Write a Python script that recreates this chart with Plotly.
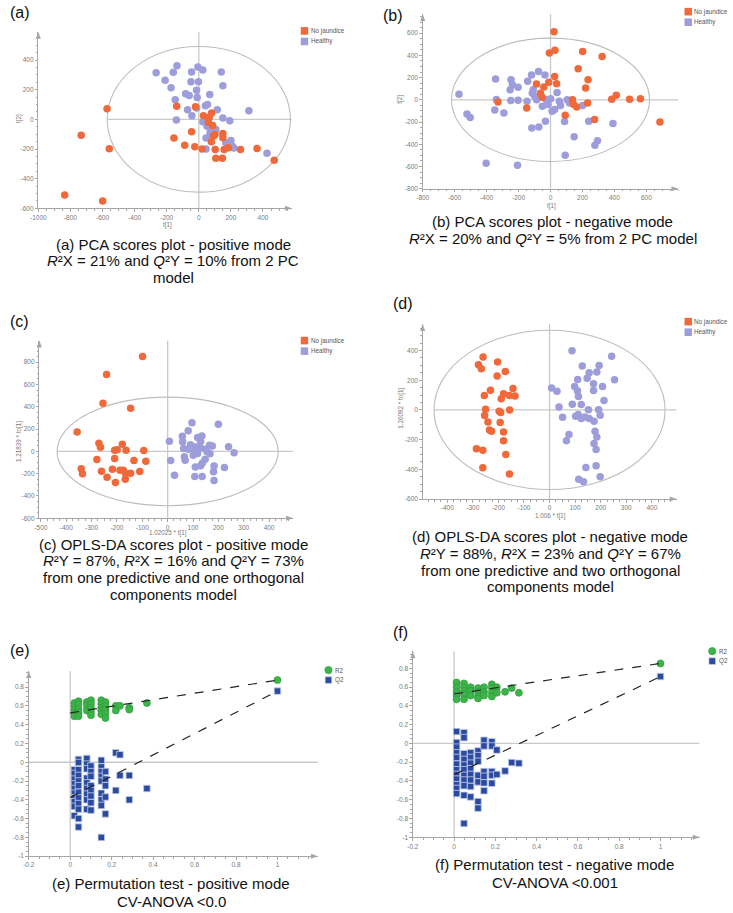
import plotly.graph_objects as go

W, H = 733, 913

# ---------------- DATA ----------------
# (a) PCA scores plot - positive mode
pca_pos_nj_t1 = [-572, -733, -558, -836, -599, -138, -21, -155, -45, -88, -25, 21, 29, 66, 80,
                 86, 78, 92, 101, 150, 150, 158, 184, 260, 363, 470, 106, 147, 102, 58, 60]
pca_pos_nj_t2 = [72, -107, -198, -511, -551, 89, 85, -125, -84, -174, -185, -200, 25, 16, 43,
                 -41, -151, -113, -102, -95, -124, -203, -191, -203, -196, -276, -263, -263, -203, 9, -20]
pca_pos_h_t1 = [-266, -210, -173, -159, -136, -45, -6, 25, 140, 150, -49, -2, -14, -82, -60, -10, 68,
                -147, -70, -14, -43, -140, 41, 54, 115, 150, 193, 312, 25, 51, 45, 106, 72, 168, 200,
                208, 219, 45, 425, 70, 60, 180]
pca_pos_h_t2 = [315, 264, 213, 318, 362, 320, 353, 333, 320, 226, 254, 254, 197, 172, 161, 148, 168,
                132, 65, 76, 25, -4, 92, 101, 65, 9, -9, 58, -16, -47, -125, -69, -80, -158, -142,
                -180, -194, -200, -229, -98, -30, -170]

# (b) PCA scores plot - negative mode
pca_neg_nj_t1 = [22, -7, 28, 201, 323, 173, 235, 26, 220, 38, -11, -42, -88, -63, -52, -329, -149,
                 92, 137, 144, 164, 232, 276, 383, 412, 495, 563, 685]
pca_neg_nj_t2 = [612, 421, 447, 435, 391, 280, 181, 211, 106, 145, 157, 115, 142, 60, 24, -19, -73,
                 -139, 1, -40, -64, -28, -178, 6, 40, 6, 9, -199]
pca_neg_h_t1 = [-573, -523, -503, -344, -339, -349, -292, -247, -238, -253, -249, -203, -203, -143,
                -119, -75, -35, -108, -114, -98, -87, -147, -26, 1, -15, 10, 26, 41, 55, 63, -117,
                -73, -32, 88, 104, 148, 92, 239, 278, 294, 391, 201, -403, -207, -51, 119]
pca_neg_h_t2 = [50, -127, -160, 187, 2, -91, -118, 181, 136, 91, -7, 112, -4, 166, 223, 256, 223,
                91, 60, 30, 0, -14, 0, 9, -43, -103, -88, 66, -14, -52, -253, -244, -193, -196, 1,
                -333, -498, -193, -408, -369, -213, -52, -572, -590, -58, -28]

# (c) OPLS-DA scores plot - positive mode
opls_pos_nj_t = [-99, -241, -255, -146, -357, -271, -265, -179, -209, -199, -164, -94, -279, -209,
                 -133, -86, -341, -336, -261, -218, -188, -175, -166, -146, -110, -239, -206, -167]
opls_pos_nj_to = [851, 690, 431, 386, 174, 73, 37, 64, 11, 14, 10, 7, -73, -64, -82, -88, -156,
                  -201, -177, -159, -168, -168, -198, -195, -180, -231, -278, -249]
opls_pos_h_t = [96, 200, 81, 118, 135, 58, 59, 7, 130, 165, 176, 240, 262, 63, 81, 106, 111, 130,
                150, 167, 101, 118, 12, 66, 69, 148, 137, 130, 183, 181, 224, 109, 27, 107, 136,
                183, 90, 155]
opls_pos_h_to = [258, 243, 186, 124, 139, 136, 86, 91, 88, 55, 49, 42, -11, 26, 20, 2, 40, 31, 20,
                 -22, -34, -19, -82, -49, -79, -70, -103, -129, -132, -183, -144, -141, -213,
                 -225, -225, -260, 60, 0]

# (d) OPLS-DA scores plot - negative mode
opls_neg_nj_t = [-260, -278, -267, -203, -173, -205, -231, -255, -143, -135, -157, -180, -189, -250,
                 -254, -241, -227, -197, -191, -156, -193, -180, -180, -286, -261, -171, -261,
                 -157, -235]
opls_neg_nj_to = [357, 304, 277, 322, 259, 228, 132, 98, 145, 94, 98, 109, 76, 4, -38, -81, -144,
                  -9, -18, 0, -85, -148, -208, -262, -271, -300, -390, -432, -135]
opls_neg_h_t = [88, 243, 128, 155, 147, 194, 185, 254, 110, 207, 98, 172, 172, 8, 29, 109, 113,
                213, 89, 37, 124, 152, 192, 198, 51, 102, 112, 124, 138, 155, 174, 178, 185, 174,
                182, 76, 66, 182, 142, 114, 133, 198]
opls_neg_h_to = [398, 362, 295, 250, 214, 299, 255, 203, 205, 158, 158, 176, 131, 147, 125, 129,
                 91, 64, 38, 20, 36, 2, 2, -36, -50, -43, -31, -58, -47, -58, -76, -143, -182,
                 -226, -267, -166, -208, -376, -388, -466, -484, -450]

# Hotelling T2 ellipse half-widths (t axis, orthogonal axis)
ellipse_a = [571, 620, 436, 452]
ellipse_b = [491, 555, 487, 536]

# (e) Permutation test - positive mode
perm_pos_r2_x = [0.02, 0.02, 0.02, 0.02, 0.02, 0.04, 0.04, 0.04, 0.04, 0.04, 0.08, 0.08, 0.08,
                 0.10, 0.10, 0.10, 0.10, 0.10, 0.15, 0.15, 0.15, 0.15, 0.15, 0.17, 0.17, 0.17,
                 0.17, 0.17, 0.22, 0.22, 0.24, 0.285, 0.285, 0.37, 1.0]
perm_pos_r2_y = [0.63, 0.60, 0.56, 0.52, 0.49, 0.65, 0.62, 0.57, 0.53, 0.49, 0.64, 0.60, 0.55,
                 0.66, 0.62, 0.58, 0.54, 0.50, 0.66, 0.62, 0.58, 0.55, 0.51, 0.64, 0.60, 0.56,
                 0.52, 0.47, 0.60, 0.55, 0.60, 0.58, 0.56, 0.63, 0.874]
perm_pos_q2_x = [0.02, 0.02, 0.02, 0.02, 0.02, 0.02, 0.02, 0.02, 0.02, 0.02,
                 0.04, 0.04, 0.04, 0.04, 0.04, 0.04, 0.04, 0.04, 0.04, 0.04, 0.04, 0.04,
                 0.08, 0.08, 0.08, 0.08, 0.08, 0.08, 0.08, 0.08, 0.08,
                 0.10, 0.10, 0.10, 0.10, 0.10, 0.10, 0.10, 0.10,
                 0.15, 0.15, 0.15, 0.15, 0.15, 0.15, 0.15, 0.15, 0.15,
                 0.17, 0.17, 0.17, 0.17, 0.17, 0.22, 0.22, 0.24, 0.24, 0.285, 0.285, 0.37, 1.0]
perm_pos_q2_y = [-0.08, -0.12, -0.18, -0.23, -0.28, -0.33, -0.38, -0.42, -0.47, -0.57,
                 0.03, -0.003, -0.08, -0.14, -0.20, -0.25, -0.32, -0.38, -0.44, -0.50, -0.60, -0.69,
                 0.04, -0.02, -0.07, -0.17, -0.22, -0.28, -0.34, -0.40, -0.50,
                 -0.04, -0.10, -0.15, -0.25, -0.30, -0.36, -0.43, -0.51,
                 0.02, -0.05, -0.10, -0.15, -0.20, -0.33, -0.40, -0.46, -0.80,
                 -0.10, -0.18, -0.25, -0.37, -0.55, 0.10, -0.30, 0.08, -0.14, -0.14, -0.40, -0.28,
                 0.757]
perm_pos_r2_line = [0.525, 0.874]
perm_pos_q2_line = [-0.375, 0.757]

# (f) Permutation test - negative mode
perm_neg_r2_x = [0.012, 0.012, 0.012, 0.012, 0.012, 0.048, 0.048, 0.048, 0.048, 0.048,
                 0.08, 0.08, 0.08, 0.116, 0.116, 0.116, 0.116, 0.145, 0.145, 0.145,
                 0.183, 0.183, 0.183, 0.183, 0.207, 0.207, 0.247, 0.279, 0.314, 1.0]
perm_neg_r2_y = [0.65, 0.60, 0.55, 0.51, 0.47, 0.64, 0.60, 0.56, 0.52, 0.47,
                 0.60, 0.56, 0.51, 0.59, 0.55, 0.50, 0.48, 0.60, 0.55, 0.51,
                 0.63, 0.59, 0.54, 0.50, 0.60, 0.54, 0.55, 0.59, 0.54, 0.853]
perm_neg_q2_x = [0.012, 0.012, 0.012, 0.012, 0.012, 0.012, 0.012, 0.012, 0.012, 0.012, 0.012, 0.012,
                 0.048, 0.048, 0.048, 0.048, 0.048, 0.048, 0.048, 0.048, 0.048, 0.048, 0.048,
                 0.08, 0.08, 0.08, 0.08, 0.08, 0.08, 0.08, 0.08,
                 0.116, 0.116, 0.116, 0.116, 0.116, 0.116, 0.116,
                 0.145, 0.145, 0.145, 0.145, 0.145, 0.145,
                 0.183, 0.183, 0.183, 0.183, 0.183, 0.207, 0.207, 0.247, 0.279, 0.314, 1.0]
perm_neg_q2_y = [0.126, 0.01, -0.04, -0.10, -0.15, -0.22, -0.28, -0.33, -0.38, -0.44, -0.48, -0.535,
                 0.115, 0.062, -0.11, -0.17, -0.23, -0.28, -0.34, -0.39, -0.45, -0.553, -0.853,
                 -0.10, -0.15, -0.21, -0.27, -0.33, -0.39, -0.46, -0.57,
                 -0.08, -0.13, -0.19, -0.34, -0.41, -0.62, -0.69,
                 0.034, -0.027, -0.30, -0.35, -0.42, -0.505,
                 0.019, -0.027, -0.30, -0.34, -0.424, -0.07, -0.33, -0.293, -0.204, -0.211, 0.713]
perm_neg_r2_line = [0.527, 0.853]
perm_neg_q2_line = [-0.333, 0.713]
perm_line_x = [0, 1]

# Tick values / labels
ticks_a_x = [-1000, -800, -600, -400, -200, 0, 200, 400]
ticks_a_y = [-600, -400, -200, 0, 200, 400]
ticks_b_x = [-800, -600, -400, -200, 0, 200, 400, 600]
ticks_b_y = [-800, -600, -400, -200, 0, 200, 400, 600]
ticks_c_x = [-500, -400, -300, -200, -100, 0, 100, 200, 300, 400]
ticks_c_y = [-600, -400, -200, 0, 200, 400, 600, 800]
ticks_d_x = [-500, -400, -300, -200, -100, 0, 100, 200, 300, 400]
ticks_d_y = [-600, -400, -200, 0, 200, 400]
ticks_perm_x = [-0.2, 0, 0.2, 0.4, 0.6, 0.8, 1]
labels_perm_x = ["-0.2", "0", "0.2", "0.4", "0.6", "0.8", "1"]
ticks_perm_y = [-1, -0.8, -0.6, -0.4, -0.2, 0, 0.2, 0.4, 0.6, 0.8]
labels_perm_y = ["-1", "-0.8", "-0.6", "-0.4", "-0.2", "0", "0.2", "0.4", "0.6", "0.8"]

group_names = ["No jaundice", "Healthy"]
perm_names = ["R2", "Q2"]

# ---------------- STYLE ----------------
AXC = '#a6a6a6'
TICKC = '#7a7a7a'
ORANGE = '#f0693a'
LAV = '#9d9ddb'
GREEN = '#3db44a'
NAVY = '#2b4ba1'
CAP_FONT = 'Liberation Sans, Arial, sans-serif'
SMALL_FONT = 'Liberation Sans, Arial, sans-serif'
CAP_SIZE = 15
LS = 16.8   # caption line spacing


def fx(px):
    return px / W


def fy(py):
    return 1 - py / H


# panel geometry in pixels: (left, top, right, bottom)
panels = [
    dict(box=(30.7, 32, 287, 209), xr=[-1000, 580], yr=[-600, 590], tx=ticks_a_x, ty=ticks_a_y,
         mx=50, my=50),
    dict(box=(419.3, 14, 677.7, 189.3), xr=[-800, 800], yr=[-800, 773], tx=ticks_b_x, ty=ticks_b_y,
         mx=50, my=50),
    dict(box=(31.7, 341.7, 288.3, 520), xr=[-506, 495], yr=[-600, 994], tx=ticks_c_x, ty=ticks_c_y,
         mx=25, my=50),
    dict(box=(419.3, 325, 676, 500.7), xr=[-496, 497], yr=[-600, 579], tx=ticks_d_x, ty=ticks_d_y,
         mx=25, my=50),
    dict(box=(21, 673.3, 313.3, 859), xr=[-0.2, 1.195], yr=[-1, 0.97], tx=ticks_perm_x,
         ty=ticks_perm_y, mx=0.05, my=0.05, lx=labels_perm_x, ly=labels_perm_y),
    dict(box=(409.3, 653.3, 699.3, 840), xr=[-0.2, 1.19], yr=[-1, 0.984], tx=ticks_perm_x,
         ty=ticks_perm_y, mx=0.05, my=0.05, lx=labels_perm_x, ly=labels_perm_y),
]

fig = go.Figure()
layout = dict(width=W, height=H, margin=dict(l=0, r=0, t=0, b=0),
              paper_bgcolor='white', plot_bgcolor='white', showlegend=False)
shapes = []
annotations = []

for i, p in enumerate(panels):
    n = '' if i == 0 else str(i + 1)
    l, t, r, b = p['box']
    common = dict(showgrid=False, zeroline=False, showline=True, linecolor=AXC, linewidth=1,
                  ticks='outside', ticklen=2.5, tickcolor=AXC, tickwidth=1,
                  tickfont=dict(size=6.5, color=TICKC, family=SMALL_FONT), fixedrange=True)
    layout['xaxis' + n] = dict(domain=[fx(l), fx(r)], range=p['xr'], anchor='y' + n,
                               tickmode='array', tickvals=p['tx'],
                               ticktext=p.get('lx', [str(v) for v in p['tx']]),
                               minor=dict(ticks='outside', ticklen=1.5, tickcolor=AXC,
                                          tickmode='linear', tick0=0, dtick=p['mx']),
                               **common)
    layout['yaxis' + n] = dict(domain=[fy(b), fy(t)], range=p['yr'], anchor='x' + n,
                               tickmode='array', tickvals=p['ty'],
                               ticktext=p.get('ly', [str(v) for v in p['ty']]),
                               minor=dict(ticks='outside', ticklen=1.5, tickcolor=AXC,
                                          tickmode='linear', tick0=0, dtick=p['my']),
                               **common)
    # arrow heads at axis ends
    shapes.append(dict(type='path', xref='paper', yref='paper', fillcolor=AXC, line=dict(width=0),
                       path=f"M {fx(r-7)} {fy(b-2.5)} L {fx(r)} {fy(b)} L {fx(r-7)} {fy(b+2.5)} Z"))
    shapes.append(dict(type='path', xref='paper', yref='paper', fillcolor=AXC, line=dict(width=0),
                       path=f"M {fx(l-2.5)} {fy(t+7)} L {fx(l)} {fy(t)} L {fx(l+2.5)} {fy(t+7)} Z"))
    xa, ya = 'x' + n, 'y' + n
    x_start = -ellipse_a[i] if i < 4 else p['xr'][0]
    shapes.append(dict(type='line', xref=xa, yref=ya, x0=x_start, x1=p['xr'][1], y0=0, y1=0,
                       line=dict(color='#c9c9c9', width=1.3), layer='below'))
    shapes.append(dict(type='line', xref=xa, yref=ya, x0=0, x1=0, y0=p['yr'][0], y1=p['yr'][1],
                       line=dict(color='#c9c9c9', width=1.3), layer='below'))
    if i < 4:
        shapes.append(dict(type='circle', xref=xa, yref=ya, x0=-ellipse_a[i], x1=ellipse_a[i],
                           y0=-ellipse_b[i], y1=ellipse_b[i],
                           line=dict(color='#bdbdbd', width=1.1), layer='below'))

score_sets = [
    (pca_pos_nj_t1, pca_pos_nj_t2, pca_pos_h_t1, pca_pos_h_t2),
    (pca_neg_nj_t1, pca_neg_nj_t2, pca_neg_h_t1, pca_neg_h_t2),
    (opls_pos_nj_t, opls_pos_nj_to, opls_pos_h_t, opls_pos_h_to),
    (opls_neg_nj_t, opls_neg_nj_to, opls_neg_h_t, opls_neg_h_to),
]
for i, (x1, y1, x2, y2) in enumerate(score_sets):
    n = '' if i == 0 else str(i + 1)
    fig.add_trace(go.Scatter(x=x2, y=y2, mode='markers', name=group_names[1], xaxis='x' + n,
                             yaxis='y' + n, marker=dict(size=7.5, color=LAV, line=dict(width=0))))
    fig.add_trace(go.Scatter(x=x1, y=y1, mode='markers', name=group_names[0], xaxis='x' + n,
                             yaxis='y' + n, marker=dict(size=7.5, color=ORANGE, line=dict(width=0))))

perm_sets = [
    (perm_pos_r2_x, perm_pos_r2_y, perm_pos_q2_x, perm_pos_q2_y, perm_pos_r2_line, perm_pos_q2_line),
    (perm_neg_r2_x, perm_neg_r2_y, perm_neg_q2_x, perm_neg_q2_y, perm_neg_r2_line, perm_neg_q2_line),
]
for j, (rx, ry, qx, qy, rl, ql) in enumerate(perm_sets):
    n = str(5 + j)
    fig.add_trace(go.Scatter(x=qx, y=qy, mode='markers', name=perm_names[1], xaxis='x' + n,
                             yaxis='y' + n,
                             marker=dict(symbol='square', size=6.5, color=NAVY,
                                         line=dict(width=0.8, color='#c5cde6'))))
    fig.add_trace(go.Scatter(x=rx, y=ry, mode='markers', name=perm_names[0], xaxis='x' + n,
                             yaxis='y' + n,
                             marker=dict(symbol='circle', size=7, color=GREEN,
                                         line=dict(width=0.7, color='#2f9a3c'))))
    for line_y in (rl, ql):
        fig.add_trace(go.Scatter(x=perm_line_x, y=line_y, mode='lines', xaxis='x' + n,
                                 yaxis='y' + n, line=dict(color='#222222', width=1.2, dash='dash'),
                                 hoverinfo='skip'))

# legends (drawn as swatches + text)
score_leg = [(296, 31), (684, 11.7), (296, 341.7), (684, 322.7)]
for (lx, ly) in score_leg:
    for k, col in enumerate([ORANGE, LAV]):
        yy = ly + k * 10.6
        shapes.append(dict(type='rect', xref='paper', yref='paper', x0=fx(lx), x1=fx(lx + 7.5),
                           y0=fy(yy + 3.8), y1=fy(yy - 3.8), fillcolor=col, line=dict(width=0)))
        annotations.append(dict(xref='paper', yref='paper', x=fx(lx + 9), y=fy(yy),
                                text=group_names[k], showarrow=False, xanchor='left',
                                yanchor='middle', borderpad=0,
                                font=dict(size=6.3, color='#555', family=SMALL_FONT)))
perm_leg = [(324, 672.3), (712, 653.3)]
for (lx, ly) in perm_leg:
    shapes.append(dict(type='circle', xref='paper', yref='paper', x0=fx(lx - 3.7), x1=fx(lx + 3.7),
                       y0=fy(ly + 3.7), y1=fy(ly - 3.7), fillcolor=GREEN,
                       line=dict(width=0.6, color='#2f9a3c')))
    shapes.append(dict(type='rect', xref='paper', yref='paper', x0=fx(lx - 3.3), x1=fx(lx + 3.3),
                       y0=fy(ly + 10 + 3.3), y1=fy(ly + 10 - 3.3), fillcolor=NAVY,
                       line=dict(width=0.6, color='#c5cde6')))
    for k in range(2):
        annotations.append(dict(xref='paper', yref='paper', x=fx(lx + 5.5), y=fy(ly + 10 * k),
                                text=perm_names[k], showarrow=False, xanchor='left',
                                yanchor='middle', borderpad=0,
                                font=dict(size=6.3, color='#555', family=SMALL_FONT)))

# axis titles
axis_titles = [
    ("t[1]", 161, 226, 0), ("t[2]", 10.5, 119, -90),
    ("t[1]", 549, 206.7, 0), ("t[2]", 395.5, 100, -90),
    ("1.02025 * t[1]", 161.7, 535, 0), ("1.21839 * to[1]", 10.5, 443, -90),
    ("1.006 * t[1]", 548.7, 517.7, 0), ("1.26082 * to[1]", 396.5, 410, -90),
]
for txt, ax_, ay_, rot in axis_titles:
    annotations.append(dict(xref='paper', yref='paper', x=fx(ax_), y=fy(ay_), text=txt,
                            showarrow=False, textangle=rot, xanchor='center', yanchor='middle',
                            borderpad=0, font=dict(size=6.3, color=TICKC, family=SMALL_FONT)))

# panel letters
letters = [("(a)", 12, 13), ("(b)", 389, 15.5), ("(c)", 12, 323), ("(d)", 399, 305),
           ("(e)", 12, 653), ("(f)", 397, 635)]
for txt, ax_, ay_ in letters:
    annotations.append(dict(xref='paper', yref='paper', x=fx(ax_), y=fy(ay_), text=txt,
                            showarrow=False, xanchor='center', yanchor='middle', borderpad=0,
                            font=dict(size=16, color='#111', family=CAP_FONT)))

R2X = "<i>R</i>²X"
R2Y = "<i>R</i>²Y"
Q2Y = "<i>Q</i>²Y"
captions = [
    (167, 245, LS, ["(a) PCA scores plot - positive mode",
                    f"{R2X} = 21% and {Q2Y} = 10% from 2 PC", "model"]),
    (551, 222.5, LS, ["(b) PCA scores plot - negative mode",
                      f"{R2X} = 20% and {Q2Y} = 5% from 2 PC model"]),
    (167, 546, LS, ["(c) OPLS-DA scores plot - positive mode",
                    f"{R2Y} = 87%, {R2X} = 16% and {Q2Y} = 73%",
                    "from one predictive and one orthogonal",
                    "components model"]),
    (548, 538.5, LS, ["(d) OPLS-DA scores plot - negative mode",
                      f"{R2Y} = 88%, {R2X} = 23% and {Q2Y} = 67%",
                      "from one predictive and two orthogonal",
                      "components model"]),
    (165, 886, 18, ["(e) Permutation test - positive mode", "CV-ANOVA &lt;0.0"]),
    (553, 867, 18, ["(f) Permutation test - negative mode", "CV-ANOVA &lt;0.001"]),
]
for cx, y0, sp, lines in captions:
    for k, txt in enumerate(lines):
        annotations.append(dict(xref='paper', yref='paper', x=fx(cx), y=fy(y0 + k * sp), text=txt,
                                showarrow=False, xanchor='center', yanchor='middle', borderpad=0,
                                font=dict(size=CAP_SIZE, color='#111', family=CAP_FONT)))

layout['shapes'] = shapes
layout['annotations'] = annotations
fig.update_layout(**layout)
fig.write_html("out.html", config={'displayModeBar': False, 'staticPlot': True},
               post_script="document.body.style.margin='0';document.body.style.padding='0';")
